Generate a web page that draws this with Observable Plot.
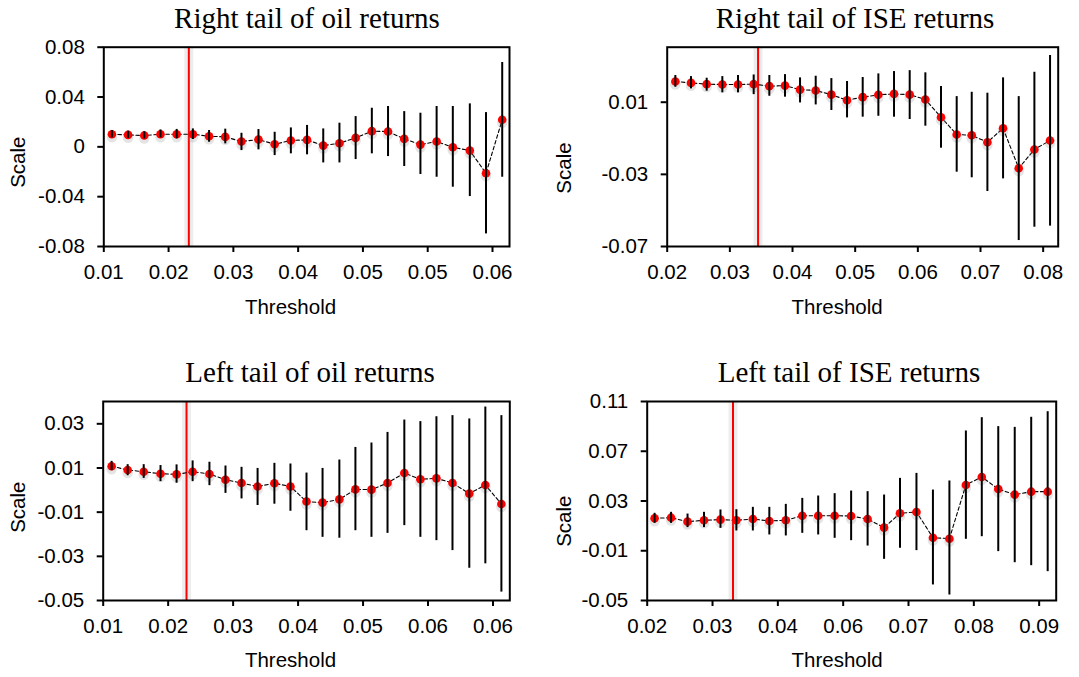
<!DOCTYPE html>
<html>
<head>
<meta charset="utf-8">
<script src="https://cdn.jsdelivr.net/npm/d3@7"></script>
<script src="https://cdn.jsdelivr.net/npm/@observablehq/plot@0.6"></script>
<style>
  html, body { margin: 0; padding: 0; background: #fff; }
  #root { position: relative; width: 1079px; height: 677px; overflow: hidden; background: #fff; }
  .title { position: absolute; font-family: "Liberation Serif", "Times New Roman", serif; font-size: 29px; line-height: 29px; white-space: nowrap; transform: translateX(-50%); color: #000; }
  .panel { position: absolute; }
  .panel svg { overflow: visible; }
</style>
</head>
<body>
<div id="root"></div>
<script>
// ---------- Data: Right tail of oil returns ----------
const oilRightThreshold = [0.0150, 0.0170, 0.0190, 0.0210, 0.0230, 0.0250, 0.0270, 0.0290, 0.0310, 0.0331, 0.0351, 0.0371, 0.0391, 0.0411, 0.0431, 0.0451, 0.0471, 0.0491, 0.0511, 0.0531, 0.0551, 0.0571, 0.0592, 0.0612, 0.0632];
const oilRightScale = [0.0101, 0.0096, 0.0091, 0.0101, 0.0101, 0.0101, 0.0085, 0.0080, 0.0043, 0.0059, 0.0021, 0.0051, 0.0056, 0.0010, 0.0029, 0.0072, 0.0126, 0.0123, 0.0064, 0.0018, 0.0043, -0.0003, -0.0030, -0.0212, 0.0217];
const oilRightLower = [0.0072, 0.0068, 0.0064, 0.0072, 0.0064, 0.0059, 0.0037, 0.0024, -0.0030, -0.0024, -0.0070, -0.0056, -0.0064, -0.0129, -0.0129, -0.0102, -0.0056, -0.0078, -0.0158, -0.0222, -0.0244, -0.0324, -0.0399, -0.0699, -0.0244];
const oilRightUpper = [0.0131, 0.0126, 0.0122, 0.0136, 0.0140, 0.0144, 0.0131, 0.0142, 0.0109, 0.0139, 0.0117, 0.0152, 0.0172, 0.0144, 0.0190, 0.0243, 0.0310, 0.0324, 0.0283, 0.0270, 0.0324, 0.0324, 0.0345, 0.0275, 0.0677];
const oilRightChosen = 0.0245;
const oilRightXTicks = [0.014, 0.022, 0.030, 0.038, 0.046, 0.054, 0.062];
const oilRightXLabels = ["0.01", "0.02", "0.03", "0.04", "0.05", "0.05", "0.06"];
const oilRightYTicks = [-0.08, -0.04, 0, 0.04, 0.08];
const oilRightYLabels = ["-0.08", "-0.04", "0", "0.04", "0.08"];

// ---------- Data: Right tail of ISE returns ----------
const iseRightThreshold = [0.0213, 0.0238, 0.0263, 0.0288, 0.0313, 0.0338, 0.0363, 0.0388, 0.0412, 0.0437, 0.0462, 0.0487, 0.0512, 0.0537, 0.0562, 0.0587, 0.0612, 0.0637, 0.0662, 0.0686, 0.0711, 0.0736, 0.0761, 0.0786, 0.0811];
const iseRightScale = [0.0215, 0.0207, 0.0200, 0.0198, 0.0198, 0.0200, 0.0189, 0.0192, 0.0170, 0.0165, 0.0142, 0.0111, 0.0128, 0.0141, 0.0146, 0.0142, 0.0115, 0.0017, -0.0079, -0.0083, -0.0122, -0.0044, -0.0266, -0.0162, -0.0112];
const iseRightLower = [0.0183, 0.0174, 0.0161, 0.0152, 0.0152, 0.0142, 0.0133, 0.0128, 0.0096, 0.0085, 0.0054, 0.0013, 0.0017, 0.0022, 0.0017, 0.0004, -0.0033, -0.0155, -0.0288, -0.0319, -0.0395, -0.0325, -0.0667, -0.0593, -0.0587];
const iseRightUpper = [0.0248, 0.0242, 0.0233, 0.0242, 0.0248, 0.0251, 0.0248, 0.0253, 0.0235, 0.0244, 0.0231, 0.0215, 0.0237, 0.0257, 0.0270, 0.0275, 0.0263, 0.0187, 0.0131, 0.0155, 0.0150, 0.0235, 0.0131, 0.0266, 0.0359];
const iseRightChosen = 0.0345;
const iseRightXTicks = [0.02, 0.03, 0.04, 0.05, 0.06, 0.07, 0.08];
const iseRightXLabels = ["0.02", "0.03", "0.04", "0.05", "0.06", "0.07", "0.08"];
const iseRightYTicks = [-0.07, -0.03, 0.01];
const iseRightYLabels = ["-0.07", "-0.03", "0.01"];

// ---------- Data: Left tail of oil returns ----------
const oilLeftThreshold = [0.0141, 0.0162, 0.0183, 0.0205, 0.0226, 0.0247, 0.0269, 0.0290, 0.0311, 0.0332, 0.0354, 0.0375, 0.0396, 0.0417, 0.0439, 0.0460, 0.0481, 0.0502, 0.0524, 0.0545, 0.0566, 0.0587, 0.0609, 0.0630, 0.0651];
const oilLeftScale = [0.0108, 0.0091, 0.0083, 0.0074, 0.0071, 0.0083, 0.0073, 0.0047, 0.0032, 0.0016, 0.0031, 0.0016, -0.0052, -0.0057, -0.0042, 0.0003, 0.0002, 0.0032, 0.0077, 0.0049, 0.0053, 0.0032, -0.0016, 0.0023, -0.0063];
const oilLeftLower = [0.0088, 0.0065, 0.0053, 0.0038, 0.0031, 0.0038, 0.0020, -0.0015, -0.0040, -0.0070, -0.0064, -0.0096, -0.0184, -0.0214, -0.0218, -0.0184, -0.0214, -0.0196, -0.0161, -0.0214, -0.0229, -0.0274, -0.0354, -0.0334, -0.0462];
const oilLeftUpper = [0.0130, 0.0115, 0.0115, 0.0111, 0.0114, 0.0132, 0.0126, 0.0109, 0.0103, 0.0098, 0.0121, 0.0118, 0.0077, 0.0098, 0.0136, 0.0193, 0.0213, 0.0261, 0.0317, 0.0310, 0.0332, 0.0337, 0.0322, 0.0376, 0.0337];
const oilLeftChosen = 0.0239;
const oilLeftXTicks = [0.013, 0.0215, 0.030, 0.0385, 0.047, 0.0555, 0.064];
const oilLeftXLabels = ["0.01", "0.02", "0.03", "0.04", "0.05", "0.06", "0.06"];
const oilLeftYTicks = [-0.05, -0.03, -0.01, 0.01, 0.03];
const oilLeftYLabels = ["-0.05", "-0.03", "-0.01", "0.01", "0.03"];

// ---------- Data: Left tail of ISE returns ----------
const iseLeftThreshold = [0.0223, 0.0252, 0.0281, 0.0310, 0.0339, 0.0367, 0.0396, 0.0425, 0.0454, 0.0483, 0.0511, 0.0540, 0.0569, 0.0598, 0.0627, 0.0655, 0.0684, 0.0713, 0.0742, 0.0771, 0.0799, 0.0828, 0.0857, 0.0886, 0.0915];
const iseLeftScale = [0.0161, 0.0166, 0.0134, 0.0145, 0.0150, 0.0145, 0.0155, 0.0139, 0.0145, 0.0182, 0.0182, 0.0182, 0.0179, 0.0155, 0.0086, 0.0201, 0.0212, 0.0005, -0.0003, 0.0429, 0.0493, 0.0396, 0.0351, 0.0375, 0.0375];
const iseLeftLower = [0.0120, 0.0120, 0.0086, 0.0086, 0.0080, 0.0059, 0.0059, 0.0027, 0.0019, 0.0040, 0.0027, 0.0000, -0.0019, -0.0062, -0.0169, -0.0080, -0.0099, -0.0375, -0.0456, -0.0008, 0.0013, -0.0107, -0.0196, -0.0220, -0.0268];
const iseLeftUpper = [0.0201, 0.0209, 0.0195, 0.0209, 0.0228, 0.0230, 0.0249, 0.0249, 0.0273, 0.0321, 0.0340, 0.0359, 0.0380, 0.0375, 0.0348, 0.0482, 0.0522, 0.0388, 0.0461, 0.0863, 0.0970, 0.0898, 0.0892, 0.0973, 0.1018];
const iseLeftChosen = 0.0361;
const iseLeftXTicks = [0.021, 0.0325, 0.044, 0.0555, 0.067, 0.0785, 0.090];
const iseLeftXLabels = ["0.02", "0.03", "0.04", "0.06", "0.07", "0.08", "0.09"];
const iseLeftYTicks = [-0.05, -0.01, 0.03, 0.07, 0.11];
const iseLeftYLabels = ["-0.05", "-0.01", "0.03", "0.07", "0.11"];

// ---------- Layout ----------
const panels = [
  { title: "Right tail of oil returns", titleX: 307, titleTop: 4,
    threshold: oilRightThreshold, scale: oilRightScale, lower: oilRightLower, upper: oilRightUpper, chosen: oilRightChosen,
    xTicks: oilRightXTicks, xLabels: oilRightXLabels, yTicks: oilRightYTicks, yLabels: oilRightYLabels,
    xDomain: [0.014, 0.0641], yDomain: [-0.08, 0.08],
    box: {left: 0, top: 30, width: 540, height: 300},
    frame: {left: 103.3, right: 509, top: 46.7, bottom: 246},
    scaleLabel: [18, 161.7], thresholdLabel: [290, 306.5] },
  { title: "Right tail of ISE returns", titleX: 855, titleTop: 4,
    threshold: iseRightThreshold, scale: iseRightScale, lower: iseRightLower, upper: iseRightUpper, chosen: iseRightChosen,
    xTicks: iseRightXTicks, xLabels: iseRightXLabels, yTicks: iseRightYTicks, yLabels: iseRightYLabels,
    xDomain: [0.02, 0.0824], yDomain: [-0.07, 0.0405],
    box: {left: 540, top: 30, width: 539, height: 300},
    frame: {left: 666.7, right: 1057.7, top: 46.7, bottom: 246},
    scaleLabel: [564, 167.5], thresholdLabel: [836.6, 306.5] },
  { title: "Left tail of oil returns", titleX: 310, titleTop: 358.4,
    threshold: oilLeftThreshold, scale: oilLeftScale, lower: oilLeftLower, upper: oilLeftUpper, chosen: oilLeftChosen,
    xTicks: oilLeftXTicks, xLabels: oilLeftXLabels, yTicks: oilLeftYTicks, yLabels: oilLeftYLabels,
    xDomain: [0.013, 0.0662], yDomain: [-0.05, 0.0401],
    box: {left: 0, top: 385, width: 540, height: 292},
    frame: {left: 102.7, right: 509.3, top: 401, bottom: 600},
    scaleLabel: [18, 506.7], thresholdLabel: [290, 660] },
  { title: "Left tail of ISE returns", titleX: 849, titleTop: 358.4,
    threshold: iseLeftThreshold, scale: iseLeftScale, lower: iseLeftLower, upper: iseLeftUpper, chosen: iseLeftChosen,
    xTicks: iseLeftXTicks, xLabels: iseLeftXLabels, yTicks: iseLeftYTicks, yLabels: iseLeftYLabels,
    xDomain: [0.021, 0.0930], yDomain: [-0.05, 0.11],
    box: {left: 540, top: 385, width: 539, height: 292},
    frame: {left: 646.7, right: 1055.7, top: 401, bottom: 600},
    scaleLabel: [564, 520.7], thresholdLabel: [836.6, 660] }
];

const root = document.getElementById("root");
const FONT = "'Liberation Sans', Arial, Helvetica, sans-serif";
const FS = 20.5;

for (const p of panels) {
  const data = p.threshold.map((t, i) => ({t, s: p.scale[i], lo: p.lower[i], hi: p.upper[i]}));
  const {box, frame} = p;
  const ml = frame.left - box.left;
  const mr = box.left + box.width - frame.right;
  const mt = frame.top - box.top;
  const mb = box.top + box.height - frame.bottom;

  const chart = Plot.plot({
    width: box.width,
    height: box.height,
    marginLeft: ml, marginRight: mr, marginTop: mt, marginBottom: mb,
    style: {fontFamily: FONT, fontSize: FS + "px", color: "#000", background: "transparent", overflow: "visible"},
    x: {domain: p.xDomain},
    y: {domain: p.yDomain},
    marks: [
      Plot.ruleX([p.chosen], {stroke: "#000", strokeOpacity: 0.07, strokeWidth: 9}),
      Plot.ruleX([p.chosen], {stroke: "#ff0000", strokeWidth: 2}),
      Plot.line(data, {x: "t", y: "s", stroke: "#000", strokeWidth: 1.1, strokeDasharray: "3.5,2.5"}),
      Plot.dot(data, {x: "t", y: "s", r: 5.2, fill: "#777", fillOpacity: 0.2, dy: 3}),
      Plot.dot(data, {x: "t", y: "s", r: 4.3, fill: "#ff0000"}),
      Plot.ruleX(data, {x: "t", y1: "lo", y2: "hi", stroke: "#000", strokeWidth: 2}),
      Plot.frame({stroke: "#000", strokeWidth: 2}),
      Plot.axisX({ticks: p.xTicks, tickFormat: d => p.xLabels[p.xTicks.indexOf(d)], tickSize: 6, tickPadding: 12, strokeWidth: 2, label: null, fontSize: FS}),
      Plot.axisY({ticks: p.yTicks, tickFormat: d => p.yLabels[p.yTicks.indexOf(d)], tickSize: 6, tickPadding: 13, strokeWidth: 2, label: null, fontSize: FS}),
      Plot.text(["Scale"], {text: d => d, frameAnchor: "top-left", dx: p.scaleLabel[0] - frame.left, dy: p.scaleLabel[1] - frame.top, rotate: -90, textAnchor: "middle", lineAnchor: "middle", fontSize: FS, fill: "#000"}),
      Plot.text(["Threshold"], {text: d => d, frameAnchor: "top-left", dx: p.thresholdLabel[0] - frame.left, dy: p.thresholdLabel[1] - frame.top, textAnchor: "middle", lineAnchor: "middle", fontSize: FS, fill: "#000"})
    ]
  });

  const wrap = document.createElement("div");
  wrap.className = "panel";
  wrap.style.left = box.left + "px";
  wrap.style.top = box.top + "px";
  wrap.appendChild(chart);
  root.appendChild(wrap);

  const t = document.createElement("div");
  t.className = "title";
  t.textContent = p.title;
  t.style.left = p.titleX + "px";
  t.style.top = p.titleTop + "px";
  root.appendChild(t);
}
</script>
</body>
</html>
